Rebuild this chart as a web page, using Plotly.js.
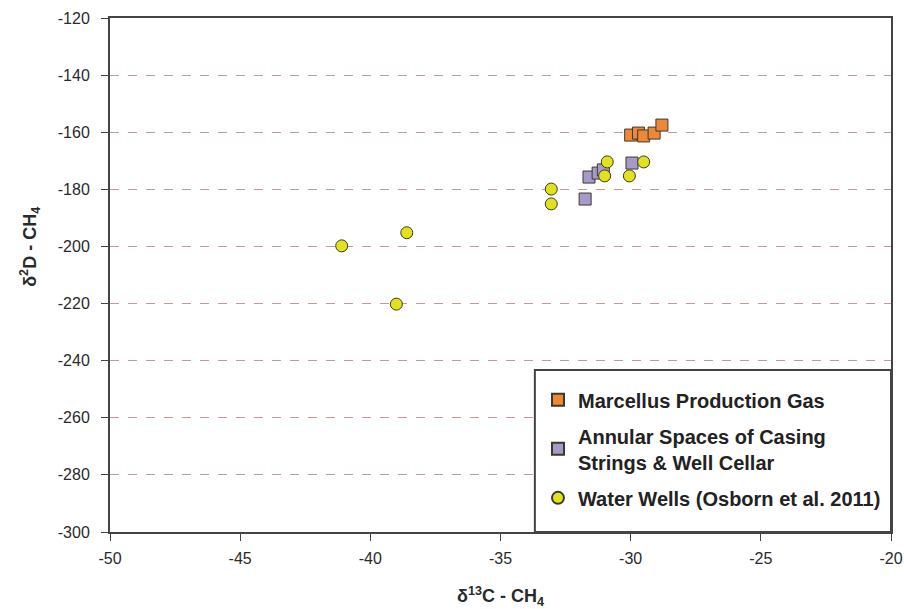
<!DOCTYPE html>
<html>
<head>
<meta charset="utf-8">
<script src="https://cdn.plot.ly/plotly-3.0.1.min.js"></script>
<style>html,body{margin:0;padding:0;background:#fff;}#chart{width:904px;height:609px;}</style>
</head>
<body>
<div id="chart"></div>
<script>
// Marcellus Production Gas
const marcellusC = [-30.0, -29.7, -29.5, -29.1, -28.8];
const marcellusD = [-161.0, -160.3, -161.3, -160.3, -157.5];
// Annular Spaces of Casing Strings & Well Cellar
const annularC = [-31.6, -31.25, -31.05, -29.95, -31.75];
const annularD = [-175.7, -174.3, -173.2, -170.8, -183.4];
// Water Wells (Osborn et al. 2011)
const wellsC = [-30.9, -31.0, -29.5, -30.05, -33.05, -33.05, -41.1, -38.6, -39.0];
const wellsD = [-170.4, -175.3, -170.4, -175.3, -179.9, -185.1, -199.8, -195.2, -220.2];

const yTicks = [-300, -280, -260, -240, -220, -200, -180, -160, -140, -120];
const xTicks = [-50, -45, -40, -35, -30, -25, -20];

const names = ['Marcellus Production Gas', 'Annular Spaces of Casing<br>Strings &amp; Well Cellar', 'Water Wells (Osborn et al. 2011)'];
const xTitle = '<b>δ<sup>13</sup>C - CH<sub>4</sub></b>';
const yTitle = '<b>δ<sup>2</sup>D - CH<sub>4</sub></b>';

const outline = {color: '#3a3a2a', width: 1};
const traces = [
  {x: marcellusC, y: marcellusD, name: names[0], legendgroup: 'g1', type: 'scatter', mode: 'markers',
   marker: {symbol: 'square', size: 12, color: '#ee8738', line: outline}},
  {x: annularC, y: annularD, name: names[1], legendgroup: 'g2', type: 'scatter', mode: 'markers',
   marker: {symbol: 'square', size: 12, color: '#a899cc', line: outline}},
  {x: wellsC, y: wellsD, name: names[2], legendgroup: 'g3', type: 'scatter', mode: 'markers',
   marker: {symbol: 'circle', size: 12, color: '#e2e21c', line: outline}}
];

const font = {family: 'Liberation Sans, Arial, sans-serif', size: 16, color: '#2a2a2a'};

const layout = {
  width: 904, height: 609,
  margin: {l: 110, r: 13, t: 18, b: 77},
  paper_bgcolor: '#fff', plot_bgcolor: '#fff',
  font: font,
  showlegend: true,
  legend: {x: 0.548, y: 0.295, xanchor: 'left', yanchor: 'top',
    bgcolor: 'rgba(0,0,0,0)', borderwidth: 0, tracegroupgap: 7,
    font: {family: 'Liberation Sans, Arial, sans-serif', size: 20, color: '#222', weight: 'bold'},
    itemsizing: 'constant', itemwidth: 30},
  xaxis: {range: [-50, -20], tickvals: xTicks, ticktext: xTicks.map(String),
    showgrid: false, zeroline: false, showline: true, linecolor: '#444', linewidth: 2,
    mirror: true, ticks: 'outside', ticklen: 7, tickcolor: '#444',
    ticklabelstandoff: 4,
    tickfont: {size: 16, color: '#2a2a2a'},
    title: {text: xTitle, font: {size: 18, color: '#2a2a2a'}, standoff: 26}},
  yaxis: {range: [-300, -120], tickvals: yTicks, ticktext: yTicks.map(String),
    showgrid: true, gridcolor: '#c49a92', griddash: 'dash', gridwidth: 1,
    zeroline: false, showline: true, linecolor: '#444', linewidth: 2,
    mirror: true, ticks: 'outside', ticklen: 7, tickcolor: '#444',
    ticklabelstandoff: 8,
    tickfont: {size: 16, color: '#2a2a2a'}},
  annotations: [
    {text: yTitle, textangle: -90, xref: 'paper', yref: 'paper',
     x: -0.103, y: 0.554, xanchor: 'center', yanchor: 'middle', showarrow: false,
     font: {size: 18, color: '#2a2a2a'}}
  ],
  shapes: [
    {type: 'rect', xref: 'paper', yref: 'paper', x0: 0.544, x1: 1, y0: 0, y1: 0.315,
     line: {color: '#444', width: 2}, fillcolor: 'rgba(255,255,255,1)', layer: 'above'}
  ]
};

Plotly.newPlot('chart', traces, layout, {displayModeBar: false, staticPlot: true});
</script>
</body>
</html>
